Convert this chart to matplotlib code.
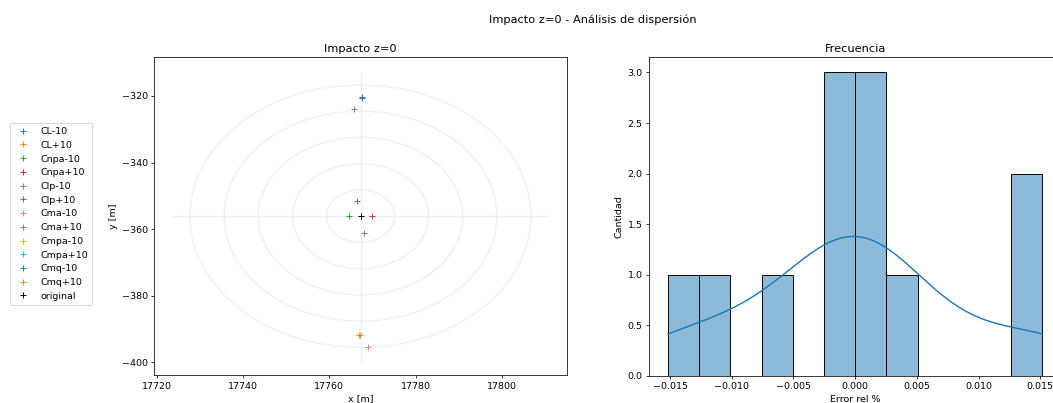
import numpy as np
import matplotlib
matplotlib.use("Agg")
import matplotlib.pyplot as plt
from matplotlib.patches import Circle
import seaborn as sns

# impact points (x, y) per simulation case
labels = ["CL-10", "CL+10", "Cnpa-10", "Cnpa+10", "Clp-10", "Clp+10",
          "Cma-10", "Cma+10", "Cmpa-10", "Cmpa+10", "Cmq-10", "Cmq+10"]
x_imp = [17767.6, 17766.9, 17764.5, 17769.9, 17768.0, 17766.3,
         17768.9, 17765.6, 17767.2, 17767.3, 17767.5, 17767.1]
y_imp = [-320.5, -391.9, -356.2, -356.1, -361.1, -351.5,
         -395.5, -324.0, -356.0, -356.1, -320.4, -391.8]
x_orig = 17767.2
y_orig = -356.1

# relative errors (%) for the histogram
err_rel = [-0.01517, -0.0115, -0.0065, -0.0017, -0.0010, -0.0004,
           0.0004, 0.0010, 0.0016, 0.0040, 0.0135, 0.01517]

fig = plt.figure(figsize=(1053/68, 403/68), dpi=68)
ax1 = fig.add_axes([154.3/1053, 1-375/403, 412.4/1053, 317.7/403])
ax2 = fig.add_axes([649.3/1053, 1-375.7/403, 411.7/1053, 318.4/403])

# target rings around the original impact point
dist = np.hypot(np.array(x_imp) - x_orig, np.array(y_imp) - y_orig)
rmax = dist.max()
for k in range(1, 6):
    ax1.add_patch(Circle((x_orig, y_orig), rmax*k/5, fill=False,
                         color="#f0f0f0", lw=1.5, zorder=0))
ax1.plot([x_orig - 1.1*rmax, x_orig + 1.1*rmax], [y_orig, y_orig], color="#f0f0f0", lw=1.5, zorder=0)
ax1.plot([x_orig, x_orig], [y_orig - 1.1*rmax, y_orig + 1.1*rmax], color="#f0f0f0", lw=1.5, zorder=0)

colors = plt.rcParams["axes.prop_cycle"].by_key()["color"]
for i, lab in enumerate(labels):
    ax1.plot(x_imp[i], y_imp[i], "+", color=colors[i % 10], label=lab)
ax1.plot(x_orig, y_orig, "k+", label="original")

ax1.set_title("Impacto z=0")
ax1.set_xlabel("x [m]")
ax1.set_ylabel("y [m]")
h, l = ax1.get_legend_handles_labels()
fig.legend(h, l, loc="upper left", bbox_to_anchor=(10/1053, 1-123.3/403),
           bbox_transform=fig.transFigure, borderaxespad=0)

sns.histplot(err_rel, bins=12, kde=True, ax=ax2)
ax2.set_title("Frecuencia")
ax2.set_xlabel("Error rel %")
ax2.set_ylabel("Cantidad")

fig.text(593/1053, 1-20/403, "Impacto z=0 - Análisis de dispersión",
         ha="center", va="center", fontsize=12)

fig.savefig("out.png", dpi=68)
